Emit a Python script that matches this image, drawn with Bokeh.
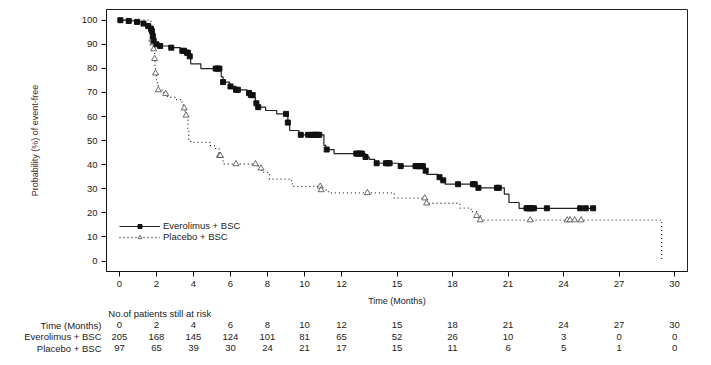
import numpy as np
from bokeh.plotting import figure
from bokeh.layouts import column
from bokeh.models import Range1d, FixedTicker, Legend, LegendItem, LabelSet, ColumnDataSource
from bokeh.core.properties import value
from bokeh.embed import file_html
from bokeh.resources import INLINE

# ---- data ----
evero_t = [0, 0.4, 0.9, 1.2, 1.5, 1.65, 1.72, 1.78, 1.85, 1.95, 2.1, 2.7, 3.3, 3.6, 3.75, 3.85,
           4.4, 5.5, 5.6, 5.95, 6.3, 6.9, 7.1, 7.25, 7.35, 7.45, 7.9, 8.5, 9.1, 9.2, 9.7,
           11.05, 11.15, 11.6, 13.3, 13.5, 13.8, 15.1, 16.5, 16.6, 17.2, 17.4, 17.6, 19.3,
           20.8, 21.05, 21.6]
evero_s = [100, 99.7, 99.3, 98.6, 97.6, 96.5, 95.5, 93.5, 91.5, 90.0, 89.3, 88.6, 87.3, 86.5, 85.0, 81.9,
           79.9, 76.5, 74.3, 72.5, 71.1, 69.8, 68.9, 67.8, 65.5, 63.9, 62.5, 61.1, 57.5, 54.2, 52.4,
           48.0, 46.3, 44.6, 43.2, 42.2, 40.6, 39.4, 37.5, 36.0, 34.8, 33.5, 31.9, 30.4,
           27.8, 24.3, 21.9]
evero_end = 25.6
evero_cens = [0.05, 0.5, 0.95, 1.3, 1.55, 1.7, 1.75, 1.8, 1.85, 2.0, 2.2, 2.8, 3.4, 3.5, 3.65, 3.7, 3.8,
              5.2, 5.3, 5.4, 5.6, 6.0, 6.3, 6.4, 7.0, 7.1, 7.2, 7.4, 7.5, 9.0, 9.1, 9.8, 10.2, 10.4,
              10.5, 10.6, 10.7, 10.8, 11.2, 12.8, 12.9, 13.0, 13.1, 13.3, 13.9, 14.4, 14.5, 14.6,
              15.2, 16.0, 16.1, 16.2, 16.3, 16.4, 16.55, 17.3, 17.5, 18.3, 19.1, 19.2, 19.4, 20.4,
              20.5, 22.0, 22.1, 22.2, 22.3, 22.4, 23.1, 24.9, 25.2, 25.6]

plac_t = [0, 1.7, 1.75, 1.8, 1.85, 1.9, 1.92, 1.95, 2.0, 2.1, 2.4, 2.6, 3.0, 3.3, 3.45, 3.55, 3.7,
          3.75, 3.85, 4.9, 5.2, 5.4, 5.6, 7.5, 7.7, 8.1, 9.3, 9.4, 10.9, 11.3, 14.85, 16.55,
          18.4, 19.0, 19.3, 19.5, 29.3]
plac_s = [100, 96, 92, 90.5, 88, 84, 81, 78, 74, 71, 69.5, 68, 67, 66, 63.5, 60.5, 55,
          50, 49.3, 47.9, 46.5, 43.8, 40.3, 38.5, 36.8, 34.0, 32.0, 31.0, 29.5, 28.3, 26.1, 24.0,
          22.0, 20.5, 18.8, 17.0, 0]
plac_cens = [1.75, 1.8, 1.85, 1.9, 1.95, 2.1, 2.5, 3.5, 3.6, 5.4, 5.45, 6.3, 7.35, 7.65, 10.85,
             10.9, 13.4, 16.5, 16.6, 19.3, 19.5, 22.2, 24.2, 24.35, 24.6, 24.95]

x_ticks = [0, 2, 4, 6, 8, 10, 12, 15, 18, 21, 24, 27, 30]
risk_evero = [205, 168, 145, 124, 101, 81, 65, 52, 26, 10, 3, 0, 0]
risk_plac = [97, 65, 39, 30, 24, 21, 17, 15, 11, 6, 5, 1, 0]
row_labels = ["Time (Months)", "Everolimus + BSC", "Placebo + BSC"]
table_title = "No.of patients still at risk"

FONT = "Liberation Sans"

def step_at(ts, ss, q):
    idx = np.searchsorted(np.array(ts), np.array(q), side="right") - 1
    return list(np.array(ss)[idx])

# ---- main figure ----
X0, X1 = -0.70, 30.70
BL, BR = 106, 11
p = figure(width=698, height=308, output_backend="svg", toolbar_location=None,
           x_range=Range1d(X0, X1), y_range=Range1d(-4.35, 104.45),
           min_border_left=BL, min_border_right=BR, min_border_top=9, min_border_bottom=37)
p.grid.visible = False
p.outline_line_color = "#222222"
p.outline_line_width = 1

for ax in (p.xaxis[0], p.yaxis[0]):
    ax.major_label_text_font = FONT
    ax.major_label_text_font_size = "9.5px"
    ax.major_label_text_color = "#222222"
    ax.axis_label_text_font = FONT
    ax.axis_label_text_font_size = "9px"
    ax.axis_label_text_font_style = "normal"
    ax.major_tick_out = 5
    ax.major_tick_in = 0
    ax.minor_tick_out = 0
    ax.minor_tick_in = 0
    ax.major_label_standoff = 4
    ax.axis_line_color = "#111111"
    ax.major_tick_line_color = "#111111"

p.xaxis.ticker = FixedTicker(ticks=x_ticks)
p.yaxis.ticker = FixedTicker(ticks=list(range(0, 101, 10)))
p.xaxis.axis_label = "Time (Months)"
p.xaxis.axis_label_standoff = 6
p.xaxis.axis_label_text_color = "#222222"
p.yaxis.axis_label = "Probability (%) of event-free"
p.yaxis.axis_label_standoff = 39
p.yaxis.axis_label_text_color = "#4a2626"

# placebo
r_pl = p.step(plac_t, plac_s, mode="after", line_color="#333333", line_width=1.3, line_dash="1 3")
r_plm = p.scatter(plac_cens, step_at(plac_t, plac_s, plac_cens), marker="triangle", size=6,
                  fill_color="white", line_color="#444444", line_width=0.8)

# everolimus
ev_x = evero_t + [evero_end]
ev_y = evero_s + [evero_s[-1]]
r_ev = p.step(ev_x, ev_y, mode="after", line_color="#222222", line_width=1.2)
r_evm = p.scatter(evero_cens, step_at(evero_t, evero_s, evero_cens), marker="square", size=5,
                  fill_color="#111111", line_color="#111111")

legend = Legend(items=[LegendItem(label="Everolimus + BSC", renderers=[r_ev, r_evm]),
                       LegendItem(label="Placebo + BSC", renderers=[r_pl, r_plm])],
                location=(13, 29), padding=0, margin=0, spacing=-3,
                glyph_width=41, glyph_height=10, label_height=10, label_standoff=3,
                label_text_font=FONT, label_text_font_size="9.5px", label_text_color="#222222",
                border_line_color=None, background_fill_alpha=0)
p.add_layout(legend)

# ---- risk table figure (frame aligned with the main plot) ----
rt = figure(width=698, height=55, output_backend="svg", toolbar_location=None,
            x_range=p.x_range, y_range=Range1d(-1.33, 3.46),
            min_border_left=BL, min_border_right=BR, min_border_top=0, min_border_bottom=0)
rt.xaxis.visible = False
rt.grid.visible = False
rt.outline_line_color = None

# row labels as the left axis' tick labels (right-aligned against the frame)
ya = rt.yaxis[0]
ya.ticker = FixedTicker(ticks=[2, 1, 0])
ya.major_label_overrides = {2 - i: lbl for i, lbl in enumerate(row_labels)}
ya.axis_line_color = None
ya.major_tick_line_color = None
ya.minor_tick_line_color = None
ya.major_tick_out = 0
ya.major_tick_in = 0
ya.major_label_standoff = 5
ya.major_label_text_font = FONT
ya.major_label_text_font_size = "9.5px"
ya.major_label_text_color = "#222222"

lab = dict(text_font=value(FONT), text_font_size=value("9.5px"), text_color=value("#222222"),
           text_baseline="middle")
n = len(x_ticks)
cells = ColumnDataSource(dict(
    x=x_ticks * 3,
    y=[2] * n + [1] * n + [0] * n,
    t=[str(v) for v in x_ticks] + [str(v) for v in risk_evero] + [str(v) for v in risk_plac]))
rt.add_layout(LabelSet(x="x", y="y", text="t", source=cells, text_align="center", **lab))

title = ColumnDataSource(dict(x=[-0.6], y=[3], t=[table_title]))
rt.add_layout(LabelSet(x="x", y="y", text="t", source=title, text_align="left", **lab))

layout = column(p, rt, spacing=0)
open("out.html", "w").write(file_html(layout, INLINE))
